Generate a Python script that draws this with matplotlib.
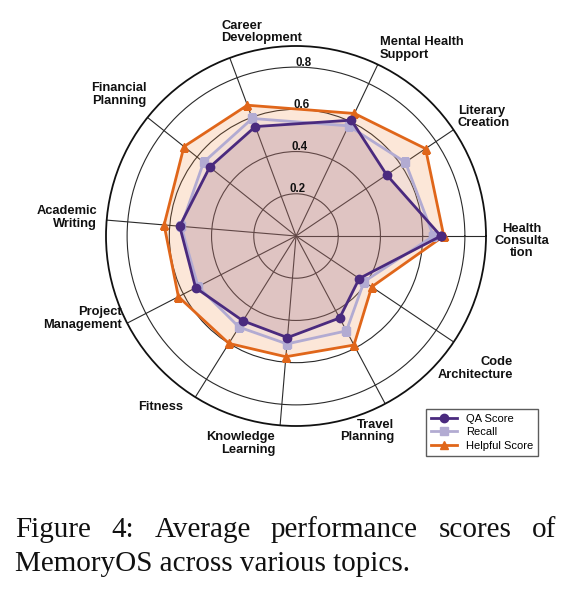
import numpy as np
import matplotlib
matplotlib.use("Agg")
import matplotlib.pyplot as plt
from matplotlib.lines import Line2D

# ---------------- data ----------------
categories = ["Health Consultation", "Literary Creation", "Mental Health Support",
              "Career Development", "Financial Planning", "Academic Writing",
              "Project Management", "Fitness", "Knowledge Learning",
              "Travel Planning", "Code Architecture"]
qa_score = [0.686, 0.518, 0.608, 0.553, 0.523, 0.553, 0.535, 0.474, 0.483, 0.440, 0.361]
recall = [0.651, 0.625, 0.578, 0.594, 0.560, 0.546, 0.522, 0.509, 0.513, 0.509, 0.388]
helpful_score = [0.700, 0.740, 0.643, 0.661, 0.679, 0.627, 0.627, 0.600, 0.574, 0.585, 0.432]
series_names = ["QA Score", "Recall", "Helpful Score"]
r_ticks = [0.2, 0.4, 0.6, 0.8]
r_tick_labels = ["0.2", "0.4", "0.6", "0.8"]

# ---------------- layout / style ----------------
axis_angles_deg = [0, 34, 64.5, 110.4, 141.4, 175.2, 207.3, 238, 265.2, 298, 326.1]
W, H = 575, 592
fig = plt.figure(figsize=(W / 100, H / 100), dpi=100)
cx, cy, R = 296, 236, 190
ax = fig.add_axes([(cx - R) / W, (H - cy - R) / H, 2 * R / W, 2 * R / H], projection="polar")
ax.set_ylim(0, 0.9)

colors = ["#4a2a7e", "#b2abd2", "#e0661a"]
fill_colors = ["#7a3a5a", "#b2abd2", "#f08a40"]
markers = ["o", "s", "^"]
fill_alpha = [0.16, 0.12, 0.20]
theta = np.deg2rad(axis_angles_deg)
theta_c = np.concatenate([theta, theta[:1]])

series = [qa_score, recall, helpful_score]
for idx in [2, 1, 0]:
    vals = np.array(series[idx] + series[idx][:1])
    ax.fill(theta_c, vals, color=fill_colors[idx], alpha=fill_alpha[idx], lw=0, zorder=2)
for idx in [2, 1, 0]:
    vals = np.array(series[idx] + series[idx][:1])
    ax.plot(theta_c, vals, color=colors[idx], lw=2.0, marker=markers[idx], ms=6,
            zorder=4 + (2 - idx))

ax.set_xticks(theta)
ax.set_xticklabels([])
ax.set_yticks(r_ticks)
ax.set_yticklabels([])
ax.grid(True, color="#2a2a2a", lw=0.8)
ax.spines["polar"].set_color("#111111")
ax.spines["polar"].set_linewidth(1.3)
ax.set_facecolor("white")

for t, lab in zip(r_ticks, r_tick_labels):
    ax.text(np.deg2rad(87.6), t + 0.022, lab, ha="center", va="center",
            fontsize=8.3, fontweight="bold", family="Liberation Sans", color="#111111", zorder=10)

label_texts = ["Health\nConsulta\ntion", "Literary\nCreation", "Mental Health\nSupport",
               "Career\nDevelopment", "Financial\nPlanning", "Academic\nWriting",
               "Project\nManagement", "Fitness", "Knowledge\nLearning",
               "Travel\nPlanning", "Code\nArchitecture"]
label_pos = [(522, 241, "center"), (458, 117, "left"), (380, 48.5, "left"),
             (221, 32, "left"), (119, 94.5, "center"), (97, 217.5, "right"),
             (122, 318.5, "right"), (161, 407, "center"), (275, 443.5, "right"),
             (394, 431, "right"), (513, 368.5, "right")]
for txt, (px, py, ha) in zip(label_texts, label_pos):
    fig.text(px / W, 1 - py / H, txt, ha=ha, va="center", multialignment=ha,
             fontsize=9.3, fontweight="bold", family="Liberation Sans",
             color="#111111", linespacing=1.05)

handles = [Line2D([0], [0], color=c, lw=2, marker=m, ms=6) for c, m in zip(colors, markers)]
leg = fig.legend(handles, series_names, loc="upper right",
                 bbox_to_anchor=(538 / W, 1 - 409 / H),
                 prop={"family": "Liberation Sans", "size": 8},
                 frameon=True, fancybox=False, edgecolor="#333333",
                 handlelength=2.3, handletextpad=0.8, borderpad=0.45,
                 labelspacing=0.3, borderaxespad=0)
leg.get_frame().set_linewidth(1.0)

cap_font = dict(family="Liberation Serif", fontsize=21, color="#111111")
line1 = ["Figure", "4:", "Average", "performance", "scores", "of"]
x0, x1 = 15, 556
y1 = 1 - 530 / H
fig.canvas.draw()
renderer = fig.canvas.get_renderer()
texts = [fig.text(0, y1, w, va="center", ha="left", **cap_font) for w in line1]
widths = [t.get_window_extent(renderer).width for t in texts]
gap = (x1 - x0 - sum(widths)) / (len(line1) - 1)
x = x0
for t, w in zip(texts, widths):
    t.set_x(x / W)
    x += w + gap
fig.text(x0 / W, 1 - 564 / H, "MemoryOS across various topics.", va="center", ha="left", **cap_font)

fig.savefig("out.png", dpi=100, facecolor="white")
